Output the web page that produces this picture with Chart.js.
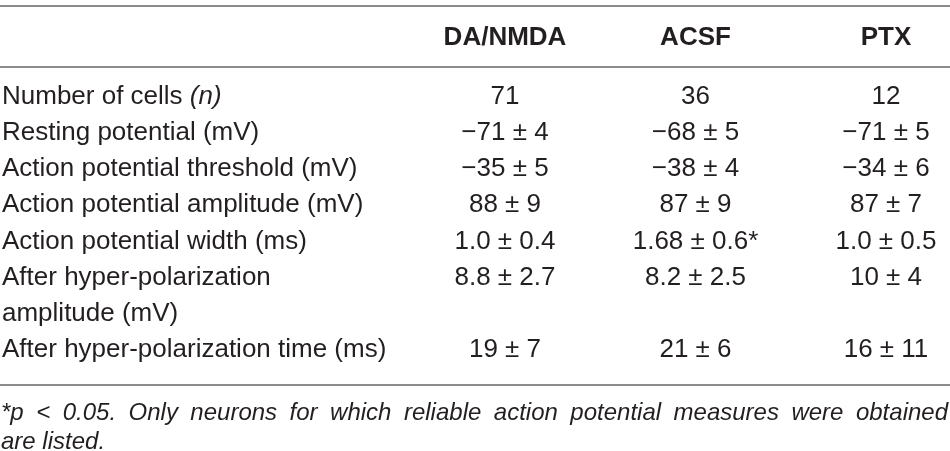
<!DOCTYPE html>
<html>
<head>
<meta charset="utf-8">
<script src="https://cdn.jsdelivr.net/npm/chart.js@4.4.0/dist/chart.umd.min.js"></script>
<style>
  html, body { margin: 0; padding: 0; background: #ffffff; }
  #wrap { width: 950px; height: 451px; position: relative; }
</style>
</head>
<body>
<div id="wrap"><canvas id="c"></canvas></div>
<script>
// ---- data ----
const columns = ['DA/NMDA', 'ACSF', 'PTX'];
const rowLabels = [
  'Number of cells _(n)_',
  'Resting potential (mV)',
  'Action potential threshold (mV)',
  'Action potential amplitude (mV)',
  'Action potential width (ms)',
  'After hyper-polarization\namplitude (mV)',
  'After hyper-polarization time (ms)'
];
const daNmda = ['71', '\u221271 \u00b1 4', '\u221235 \u00b1 5', '88 \u00b1 9', '1.0 \u00b1 0.4', '8.8 \u00b1 2.7', '19 \u00b1 7'];
const acsf   = ['36', '\u221268 \u00b1 5', '\u221238 \u00b1 4', '87 \u00b1 9', '1.68 \u00b1 0.6*', '8.2 \u00b1 2.5', '21 \u00b1 6'];
const ptx    = ['12', '\u221271 \u00b1 5', '\u221234 \u00b1 6', '87 \u00b1 7', '1.0 \u00b1 0.5', '10 \u00b1 4', '16 \u00b1 11'];
const footnote = '*p < 0.05. Only neurons for which reliable action potential measures were obtained\nare listed.';

// ---- layout (line units on the y scale, column units on the x scale) ----
const series = [daNmda, acsf, ptx];
const rowLine = [];
(function () {
  let acc = 0;
  rowLabels.forEach(l => { rowLine.push(acc); acc += l.split('\n').length; });
})();
const lastLine = rowLine[rowLine.length - 1];
const HEADER_Y = -1.634;
const RULES_Y = [-2.52, -0.83, lastLine + 0.98];
const FOOT_Y = [lastLine + 1.75, lastLine + 2.56];

const FONT = '"Liberation Sans", Arial, Helvetica, sans-serif';
const TXT = '#231f20';
const RULE = '#8c8c8c';

function drawRich(ctx, text, x, y, size) {
  // segments between underscores are italic
  const parts = text.split('_');
  let cx = x;
  parts.forEach((p, i) => {
    if (!p) return;
    ctx.font = (i % 2 ? 'italic ' : '') + size + 'px ' + FONT;
    ctx.fillText(p, cx, y);
    cx += ctx.measureText(p).width;
  });
}

const tablePlugin = {
  id: 'tablePlugin',
  afterDatasetsDraw(chart) {
    const ctx = chart.ctx;
    const xs = chart.scales.x, ys = chart.scales.y;
    const left = 0, right = chart.width;
    ctx.save();
    // rules
    ctx.strokeStyle = RULE;
    ctx.lineWidth = 2;
    RULES_Y.forEach(v => {
      const py = Math.round(ys.getPixelForValue(v));
      ctx.beginPath(); ctx.moveTo(left, py); ctx.lineTo(right, py); ctx.stroke();
    });
    ctx.fillStyle = TXT;
    ctx.textBaseline = 'middle';
    // header
    ctx.textAlign = 'center';
    ctx.font = 'bold 26px ' + FONT;
    columns.forEach((c, ci) => {
      ctx.fillText(c, xs.getPixelForValue(ci + 1), ys.getPixelForValue(HEADER_Y));
    });
    // cells
    ctx.font = '26px ' + FONT;
    chart.data.datasets.forEach((ds, di) => {
      const meta = chart.getDatasetMeta(di);
      meta.data.forEach((pt, i) => {
        ctx.fillText(series[di][i], pt.x, pt.y);
      });
    });
    // row labels
    ctx.textAlign = 'left';
    rowLabels.forEach((lab, i) => {
      lab.split('\n').forEach((ln, k) => {
        drawRich(ctx, ln, left + 2, ys.getPixelForValue(rowLine[i] + k), 26);
      });
    });
    // footnote (first line justified)
    ctx.font = 'italic 24px ' + FONT;
    const flines = footnote.split('\n');
    flines.forEach((ln, k) => {
      const py = ys.getPixelForValue(FOOT_Y[k]);
      if (k < flines.length - 1) {
        const words = ln.split(' ');
        const total = words.reduce((s, w) => s + ctx.measureText(w).width, 0);
        const gap = ((right - 2) - (left + 1) - total) / (words.length - 1);
        let cx = left + 1;
        words.forEach(w => { ctx.fillText(w, cx, py); cx += ctx.measureText(w).width + gap; });
      } else {
        ctx.fillText(ln, left + 1, py);
      }
    });
    ctx.restore();
  }
};

new Chart(document.getElementById('c'), {
  type: 'scatter',
  data: {
    datasets: series.map((vals, ci) => ({
      label: columns[ci],
      data: vals.map((v, i) => ({ x: ci + 1, y: rowLine[i] })),
      pointRadius: 0,
      pointHoverRadius: 0,
      showLine: false
    }))
  },
  options: {
    responsive: true,
    maintainAspectRatio: false,
    animation: false,
    events: [],
    layout: { padding: 0 },
    plugins: { legend: { display: false }, tooltip: { enabled: false } },
    scales: {
      x: { type: 'linear', display: false, min: -1.651, max: 3.336 },
      y: { type: 'linear', display: false, reverse: true, min: -2.687, max: 9.806 }
    }
  },
  plugins: [tablePlugin]
});
</script>
</body>
</html>
